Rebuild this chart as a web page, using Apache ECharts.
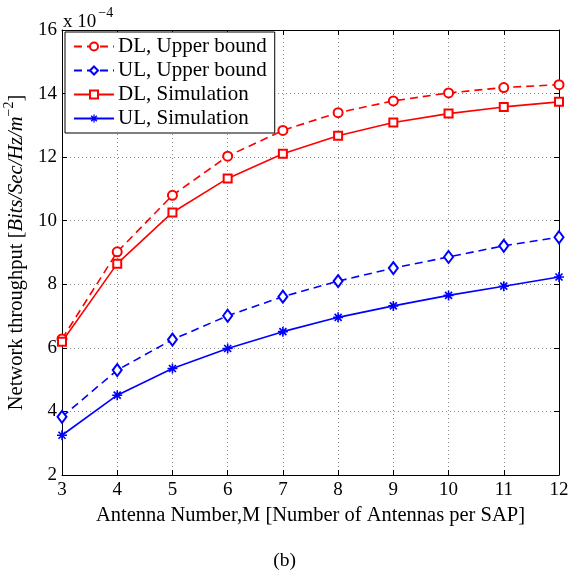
<!DOCTYPE html>
<html><head><meta charset="utf-8">
<script src="https://cdn.jsdelivr.net/npm/echarts@6/dist/echarts.min.js"></script>
<style>html,body{margin:0;padding:0;background:#fff}#c{width:569px;height:573px}</style>
</head><body><div id="c"></div>
<script>
const antennas = [3, 4, 5, 6, 7, 8, 9, 10, 11, 12];
const dlUpper = [6.28, 9.02, 10.80, 12.03, 12.84, 13.40, 13.77, 14.02, 14.19, 14.28];
const ulUpper = [3.83, 5.30, 6.26, 7.01, 7.61, 8.10, 8.51, 8.86, 9.21, 9.48];
const dlSim   = [6.19, 8.65, 10.26, 11.33, 12.11, 12.67, 13.09, 13.37, 13.58, 13.74];
const ulSim   = [3.25, 4.51, 5.35, 5.98, 6.51, 6.96, 7.32, 7.65, 7.94, 8.23];
const seriesNames = ['DL, Upper bound', 'UL, Upper bound', 'DL, Simulation', 'UL, Simulation'];
const yMin = 2, yMax = 16, yStep = 2;
const xMin = 3, xMax = 12, xStep = 1;

const FONT = 'Liberation Serif';
const RED = '#ff0000', BLUE = '#0000ff';
const asterisk = 'path://M0,4.2L10,4.2L10,5.8L0,5.8Z M4.2,0L5.8,0L5.8,10L4.2,10Z M0.9,2.1L2.1,0.9L9.1,7.9L7.9,9.1Z M7.9,0.9L9.1,2.1L2.1,9.1L0.9,7.9Z';

function pairs(ys) { return antennas.map((x, i) => [x, ys[i]]); }

const chart = echarts.init(document.getElementById('c'), null, {renderer: 'canvas'});
const gridLine = {show: true, lineStyle: {color: '#888', type: [1, 3], width: 1}};
const axLine = {show: true, lineStyle: {color: '#000', width: 1}};
const tick = {show: true, inside: true, length: 5, lineStyle: {color: '#000', width: 1}};

chart.setOption({
  animation: false,
  backgroundColor: '#fff',
  textStyle: {fontFamily: FONT},
  grid: {left: 62, right: 10, top: 30, bottom: 98, containLabel: false, outerBoundsMode: 'none'},
  xAxis: [
    {type: 'value', position: 'bottom', min: xMin, max: xMax, interval: xStep,
     axisLine: axLine, axisTick: tick, splitLine: gridLine,
     axisLabel: {color: '#000', fontFamily: FONT, fontSize: 19, margin: 6},
     name: 'Antenna Number,M [Number of Antennas per SAP]', nameLocation: 'middle', nameGap: 26,
     nameTextStyle: {color: '#000', fontFamily: FONT, fontSize: 20.5}},
    {type: 'value', position: 'top', min: xMin, max: xMax, interval: xStep,
     axisLine: axLine, axisTick: tick, splitLine: {show: false}, axisLabel: {show: false}}
  ],
  yAxis: [
    {type: 'value', position: 'left', min: yMin, max: yMax, interval: yStep,
     axisLine: axLine, axisTick: tick, splitLine: gridLine,
     axisLabel: {color: '#000', fontFamily: FONT, fontSize: 19, margin: 5},
     name: '{n|Network throughput [}{i|Bits/Sec/Hz/m}{s|−2}{n|]}', nameLocation: 'middle', nameGap: 30, nameRotate: 90,
     nameTextStyle: {color: '#000', fontFamily: FONT, fontSize: 20.5,
       rich: {
         n: {fontFamily: FONT, fontSize: 20.5, color: '#000', verticalAlign: 'bottom', lineHeight: 25},
         i: {fontFamily: FONT, fontSize: 20.5, fontStyle: 'italic', color: '#000', verticalAlign: 'bottom', lineHeight: 25},
         s: {fontFamily: FONT, fontSize: 14, color: '#000', verticalAlign: 'top', lineHeight: 14}
       }}},
    {type: 'value', position: 'right', min: yMin, max: yMax, interval: yStep,
     axisLine: axLine, axisTick: tick, splitLine: {show: false}, axisLabel: {show: false}}
  ],
  legend: {
    orient: 'vertical', left: 65, top: 32,
    backgroundColor: '#fff', borderColor: '#000', borderWidth: 1, borderRadius: 0,
    padding: [4, 8, 4, 8], itemGap: 3, itemWidth: 40, itemHeight: 10,
    textStyle: {color: '#000', fontFamily: FONT, fontSize: 21, padding: [0, 0, 0, -1]},
    data: seriesNames
  },
  title: [
    {text: '{a|x 10}{b|−4}', left: 58, top: 1,
     textStyle: {fontFamily: FONT, color: '#000', fontWeight: 'normal',
       rich: {a: {fontFamily: FONT, fontSize: 19, fontWeight: 'normal', color: '#000', verticalAlign: 'bottom', lineHeight: 26},
              b: {fontFamily: FONT, fontSize: 14, fontWeight: 'normal', color: '#000', verticalAlign: 'top', lineHeight: 14, padding: [0, 0, 0, 2]}}}},
    {text: '(b)', left: 'center', top: 546,
     textStyle: {fontFamily: FONT, fontSize: 19.5, fontWeight: 'normal', color: '#000'}}
  ],
  series: [
    {name: seriesNames[0], type: 'line', data: pairs(dlUpper), symbol: 'emptyCircle', symbolSize: 9,
     lineStyle: {color: RED, width: 1.6, type: [8, 5]}, itemStyle: {color: RED, borderWidth: 1.6}},
    {name: seriesNames[1], type: 'line', data: pairs(ulUpper), symbol: 'emptyDiamond', symbolSize: [9, 12],
     lineStyle: {color: BLUE, width: 1.6, type: [8, 5]}, itemStyle: {color: BLUE, borderWidth: 1.6}},
    {name: seriesNames[2], type: 'line', data: pairs(dlSim), symbol: 'emptyRect', symbolSize: 8,
     lineStyle: {color: RED, width: 1.6}, itemStyle: {color: RED, borderWidth: 1.6}},
    {name: seriesNames[3], type: 'line', data: pairs(ulSim), symbol: asterisk, symbolSize: 10,
     lineStyle: {color: BLUE, width: 1.6}, itemStyle: {color: BLUE}}
  ]
});
</script></body></html>
